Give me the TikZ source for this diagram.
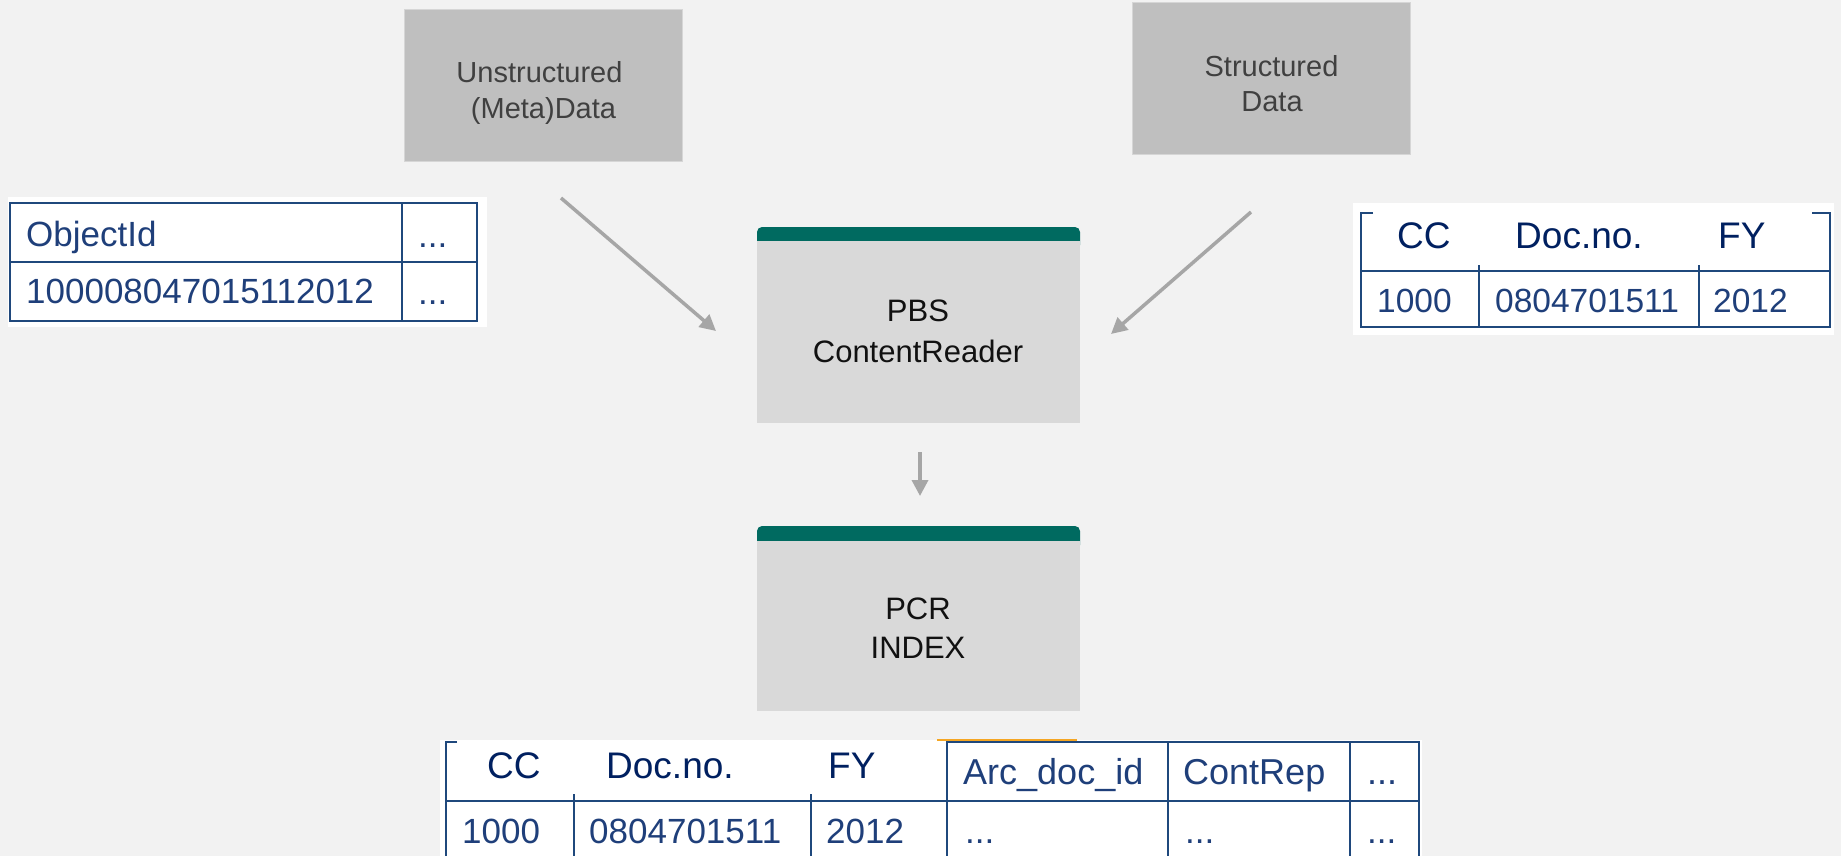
\documentclass[tikz,border=0pt]{standalone}
\usepackage{fontspec}
\setmainfont{Liberation Sans}
\usetikzlibrary{arrows.meta}
\definecolor{bgc}{HTML}{F2F2F2}
\definecolor{topgray}{HTML}{BFBFBF}
\definecolor{topbd}{HTML}{D6D6D6}
\definecolor{boxtxt}{HTML}{404040}
\definecolor{midgray}{HTML}{D9D9D9}
\definecolor{tealc}{HTML}{006A60}
\definecolor{arrowc}{HTML}{A6A6A6}
\definecolor{linec}{HTML}{1F487C}
\definecolor{navyc}{HTML}{002060}
\definecolor{tbluec}{HTML}{1F3F7A}
\definecolor{orangec}{HTML}{F5A623}
\definecolor{darktxt}{HTML}{111111}
\begin{document}
\begin{tikzpicture}[x=1pt,y=-1pt,
  topbox/.style={draw=topbd, line width=1pt, fill=topgray, minimum width=278pt, minimum height=151pt, inner sep=0pt},
  midbox/.style={fill=midgray, minimum width=323pt, inner sep=0pt},
  tealbar/.style={fill=tealc, rounded corners=5pt},
  flow/.style={draw=arrowc, line width=3.5pt, -{Triangle[width=16pt,length=16pt]}},
  tline/.style={draw=linec, line width=2pt},
  txt/.style={inner sep=0pt, anchor=base west},
  boxlbl/.style={inner sep=0pt, anchor=base, text=boxtxt, font=\fontsize{29}{35}\selectfont},
  midlbl/.style={inner sep=0pt, anchor=base, text=darktxt, font=\fontsize{31}{37}\selectfont},
  lefttxt/.style={txt, text=tbluec, font=\fontsize{35}{42}\selectfont},
  headtxt/.style={txt, text=navyc, font=\fontsize{37}{44}\selectfont},
  head2txt/.style={txt, text=tbluec, font=\fontsize{36}{43}\selectfont},
  rowtxt/.style={txt, text=tbluec, font=\fontsize{35}{42}\selectfont},
  rowtxtR/.style={txt, text=tbluec, font=\fontsize{33.5}{40}\selectfont}
]
\useasboundingbox (0,0) rectangle (1841,856);
\fill[bgc] (0,0) rectangle (1841,856);

% top boxes
\node[topbox] (unstr) at (543,85.5) {};
\node[boxlbl] (unstrA) at (539.5,83) {Unstructured};
\node[boxlbl] (unstrB) at (543.5,119) {(Meta)Data};
\node[topbox] (str) at (1271,78.5) {};
\node[boxlbl] (strA) at (1271.5,76.7) {Structured};
\node[boxlbl] (strB) at (1272,111.7) {Data};

% PBS ContentReader
\fill[tealbar] (757,227) rectangle (1080,250);
\node[midbox, minimum height=182pt] (pbs) at (918.5,332) {};
\node[midlbl] (pbsA) at (918,321.7) {PBS};
\node[midlbl] (pbsB) at (918,362) {ContentReader};

% PCR INDEX
\fill[tealbar] (757,526) rectangle (1080,550);
\node[midbox, minimum height=170pt] (pcr) at (918.5,626) {};
\node[midlbl] (pcrA) at (918,619) {PCR};
\node[midlbl] (pcrB) at (918,658) {INDEX};

% arrows
\coordinate (a1s) at (561,198);
\coordinate (a1e) at (716,331);
\coordinate (a2s) at (1251,212);
\coordinate (a2e) at (1111,334);
\coordinate (a3s) at (920,452);
\coordinate (a3e) at (920,496);
\draw[flow] (a1s) -- (a1e);
\draw[flow] (a2s) -- (a2e);
\draw[flow] (a3s) -- (a3e);

% left table
\fill[white] (8,197) rectangle (487,327);
\draw[tline] (10,203) rectangle (477,321);
\draw[tline] (10,262) -- (477,262);
\draw[tline] (402,203) -- (402,321);
\node[lefttxt] (objid) at (26,246) {ObjectId};
\node[lefttxt] (objnum) at (26,303) {100008047015112012};
\node[lefttxt] (objd1) at (418,247) {...};
\node[lefttxt] (objd2) at (418,304) {...};

% right table
\fill[white] (1353,203) rectangle (1834,335);
\draw[tline] (1373,213) -- (1361,213) -- (1361,327) -- (1830,327) -- (1830,213) -- (1812,213);
\draw[tline] (1361,271) -- (1830,271);
\draw[tline] (1479,265) -- (1479,327);
\draw[tline] (1699,265) -- (1699,327);
\node[headtxt] (rcc) at (1397,248) {CC};
\node[headtxt] (rdoc) at (1515,248) {Doc.no.};
\node[headtxt] (rfy) at (1718,248) {FY};
\node[rowtxtR] (rv1) at (1377,312) {1000};
\node[rowtxtR] (rv2) at (1495,312) {0804701511};
\node[rowtxtR] (rv3) at (1713,312) {2012};

% bottom table
\fill[white] (440,740) rectangle (1422,856);
\draw[orangec, line width=1.5pt] (937,740) -- (1077,740);
\draw[tline] (457,742) -- (446,742) -- (446,857);
\draw[tline] (947,741) -- (947,857);
\draw[tline] (947,742) -- (1419,742) -- (1419,857);
\draw[tline] (1168,742) -- (1168,857);
\draw[tline] (1350,742) -- (1350,857);
\draw[tline] (446,801) -- (1419,801);
\draw[tline] (574,794) -- (574,857);
\draw[tline] (811,794) -- (811,857);
\node[headtxt] (bcc) at (487,778) {CC};
\node[headtxt] (bdoc) at (606,778) {Doc.no.};
\node[headtxt] (bfy) at (828,778) {FY};
\node[head2txt] (barc) at (963,784) {Arc\_doc\_id};
\node[head2txt] (bcont) at (1183,784) {ContRep};
\node[head2txt] (bmore) at (1367,784) {...};
\node[rowtxt] (bv1) at (462,843) {1000};
\node[rowtxt] (bv2) at (589,843) {0804701511};
\node[rowtxt] (bv3) at (826,843) {2012};
\node[rowtxt] (bv4) at (965,843) {...};
\node[rowtxt] (bv5) at (1185,843) {...};
\node[rowtxt] (bv6) at (1367,843) {...};
\end{tikzpicture}
\end{document}
